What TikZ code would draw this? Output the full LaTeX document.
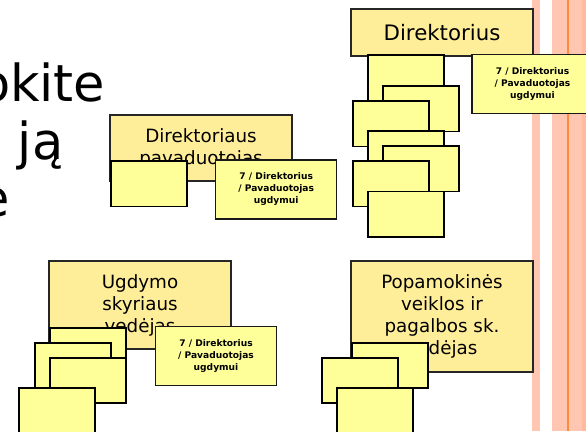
\documentclass[tikz,border=0pt]{standalone}
\usepackage{fontspec}
\setmainfont{DejaVu Sans}
\newfontfamily\notefont{DejaVu Sans}
\definecolor{headfill}{RGB}{255,238,153}
\definecolor{stackfill}{RGB}{255,255,153}
\definecolor{stripe}{RGB}{255,198,178}
\definecolor{stripedark}{RGB}{255,186,160}
\definecolor{stripeline}{RGB}{255,138,58}
\tikzset{
	headbox/.style={draw=black!85, line width=1.3pt, fill=headfill, minimum width=182pt, align=center, inner sep=0pt, font=\fontsize{18.3}{22}\selectfont},
	stackbox/.style={draw=black, line width=1.9pt, fill=stackfill, minimum width=76pt, minimum height=45.5pt, anchor=north west, inner sep=0pt},
	notebox/.style={draw=black!90, line width=1.5pt, fill=stackfill, minimum width=121pt, minimum height=59pt, align=center, inner sep=0pt, font=\notefont\bfseries\fontsize{9.1}{12}\selectfont},
	bigword/.style={anchor=base east, inner sep=0pt, font=\fontsize{51}{60}\selectfont}
}
\begin{document}
\begin{tikzpicture}[x=1pt,y=-1pt]
		\useasboundingbox (0,0) rectangle (586,431);
		\clip (0,0) rectangle (586,431);
		\fill[white] (0,0) rectangle (586,431);
		\fill[stripe] (531.7,0) rectangle (540,431);
		\fill[stripe] (551.7,0) rectangle (581.7,431);
		\fill[stripedark] (581.7,0) rectangle (586,431);
		\fill[stripeline] (566.7,0) rectangle (569.2,431);
		\node[bigword] (wordA) at (105.5,101.7) {okite};
		\node[bigword] (wordB) at (63.5,159) {ją};
		\node[bigword] (wordC) at (10,216) {e};
		\node[headbox, minimum height=47pt, font=\fontsize{21.3}{25}\selectfont] (dir) at (442,32.5) {Direktorius};
		\node[stackbox] (dirA) at (367,54) {};
		\node[stackbox] (dirB) at (382,85) {};
		\node[stackbox] (dirC) at (352,100) {};
		\node[stackbox] (dirD) at (367,130) {};
		\node[stackbox] (dirE) at (382,145) {};
		\node[stackbox] (dirF) at (352,160) {};
		\node[stackbox] (dirG) at (367,190.5) {};
		\node[notebox] (dirNote) at (532.5,84.2) {7 / Direktorius\\/ Pavaduotojas\\ugdymui};
		\node[headbox, minimum height=66pt] (pav) at (201,148) {Direktoriaus\\pavaduotojas};
		\node[stackbox] (pavA) at (110,160) {};
		\node[notebox] (pavNote) at (276.2,189.5) {7 / Direktorius\\/ Pavaduotojas\\ugdymui};
		\node[headbox, minimum height=88pt] (ugd) at (140,305) {Ugdymo\\skyriaus\\vedėjas};
		\node[stackbox] (ugdA) at (49,326.7) {};
		\node[stackbox] (ugdB) at (34,341.7) {};
		\node[stackbox] (ugdC) at (49,356.7) {};
		\node[stackbox] (ugdD) at (18.3,386.7) {};
		\node[notebox] (ugdNote) at (216,356.2) {7 / Direktorius\\/ Pavaduotojas\\ugdymui};
		\node[headbox, minimum height=111pt] (pop) at (442,316.5) {Popamokinės\\veiklos ir\\pagalbos sk.\\vedėjas};
		\node[stackbox] (popA) at (351,341.7) {};
		\node[stackbox] (popB) at (320.7,356.7) {};
		\node[stackbox] (popC) at (336,387.3) {};
	\end{tikzpicture}
\end{document}
